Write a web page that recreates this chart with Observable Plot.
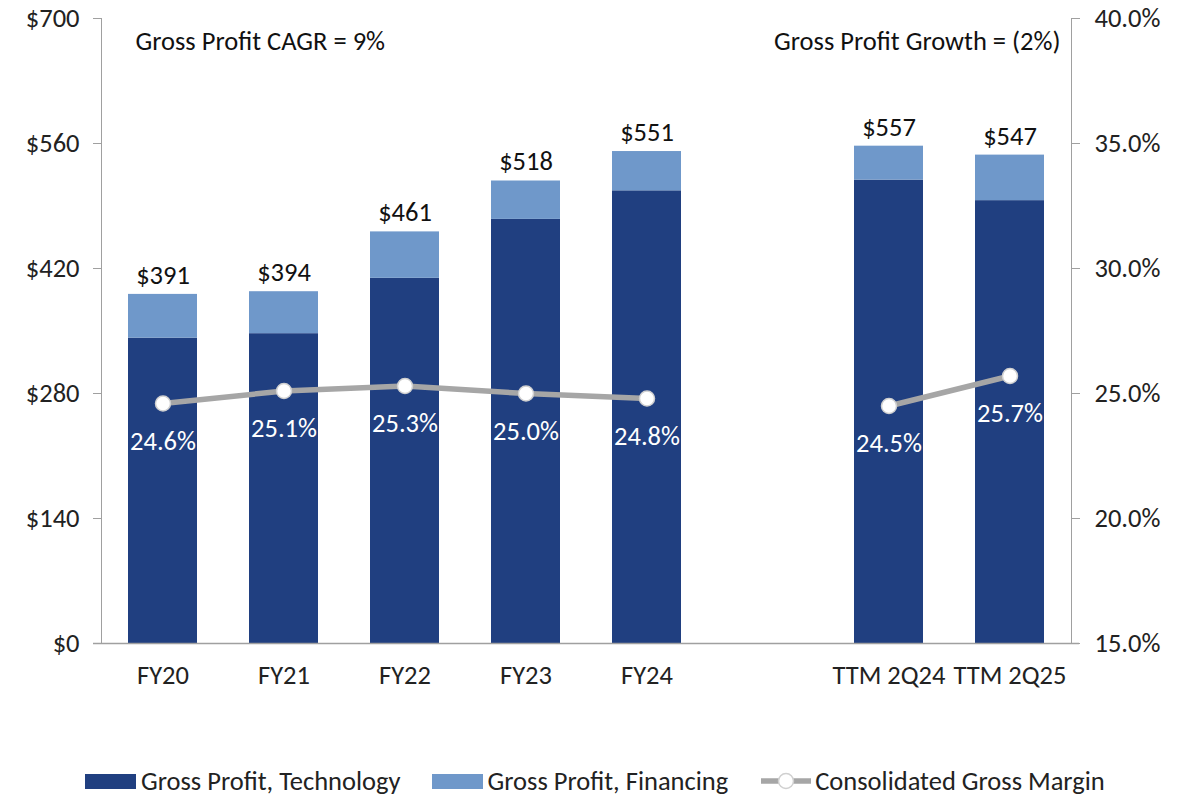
<!DOCTYPE html>
<html>
<head>
<meta charset="utf-8">
<script src="https://cdn.jsdelivr.net/npm/d3@7"></script>
<script src="https://cdn.jsdelivr.net/npm/@observablehq/plot@0.6"></script>
<style>
  html, body { margin: 0; padding: 0; background: #fff; }
  body { width: 1194px; height: 796px; overflow: hidden; font-family: Carlito, Lato, sans-serif; }
  #chart svg { display: block; }
  #legend { display: flex; justify-content: flex-start; align-items: center; height: 30px; padding-left: 85px;
    font-size: 26.5px; line-height: 30px; color: #222; font-family: Carlito, Lato, sans-serif; }
  .item { display: flex; align-items: center; margin-right: 31px; white-space: nowrap; }
  .sw { width: 51px; height: 15px; margin-right: 5px; }
</style>
</head>
<body>
<div id="chart"></div>
<div id="legend"></div>
<script>
const categories = ["FY20", "FY21", "FY22", "FY23", "FY24", "TTM 2Q24", "TTM 2Q25"];
const groups = ["FY", "FY", "FY", "FY", "FY", "TTM", "TTM"];
const technology = [342, 347, 409, 475, 507, 519, 496];
const financing = [49, 47, 52, 43, 44, 38, 51];
const totals = [391, 394, 461, 518, 551, 557, 547];
const margins = [24.6, 25.1, 25.3, 25.0, 24.8, 24.5, 25.7];
const xDomain = ["FY20", "FY21", "FY22", "FY23", "FY24", " ", "TTM 2Q24", "TTM 2Q25"];
const leftTicks = [0, 140, 280, 420, 560, 700];
const rightTicks = [15, 20, 25, 30, 35, 40];
const seriesNames = ["Gross Profit, Technology", "Gross Profit, Financing", "Consolidated Gross Margin"];
const colors = ["#203F80", "#6F98CA", "#A6A6A6"];
const notes = ["Gross Profit CAGR = 9%", "Gross Profit Growth = (2%)"];

// right axis (margin %) mapped onto the left axis range
const yMax = 700, mMin = 15, mMax = 40;
const toLeft = m => (m - mMin) / (mMax - mMin) * yMax;
const fromLeft = v => mMin + v / yMax * (mMax - mMin);

const rows = [];
categories.forEach((c, i) => {
  rows.push({cat: c, series: seriesNames[0], value: technology[i]});
  rows.push({cat: c, series: seriesNames[1], value: financing[i]});
});
const tot = categories.map((c, i) => ({cat: c, total: totals[i]}));
const mar = categories.map((c, i) => ({cat: c, m: margins[i], g: groups[i]}));

const font = "Carlito, Lato, sans-serif";
const fs = 26.5;
const chart = Plot.plot({
  width: 1194,
  height: 766,
  marginTop: 18,
  marginBottom: 123,
  marginLeft: 101,
  marginRight: 123,
  style: {fontFamily: font, fontSize: fs + "px", color: "#222", background: "#fff"},
  x: {domain: xDomain, paddingInner: 0.43, paddingOuter: 0.215, label: null},
  y: {domain: [0, yMax], label: null},
  color: {domain: seriesNames.slice(0, 2), range: colors.slice(0, 2)},
  marks: [
    Plot.barY(rows, {x: "cat", y: "value", fill: "series", order: seriesNames.slice(0, 2)}),
    Plot.frame({anchor: "left", stroke: "#A0A0A0", strokeOpacity: 1}),
    Plot.frame({anchor: "right", stroke: "#A0A0A0", strokeOpacity: 1}),
    Plot.ruleY([0], {stroke: "#A0A0A0", strokeWidth: 1.5, insetLeft: -8, insetRight: -8}),
    Plot.axisY({anchor: "left", ticks: leftTicks, tickFormat: d => "$" + d, tickSize: 8, tickPadding: 14,
      stroke: "#A0A0A0", fill: "#222", fontSize: fs}),
    Plot.axisY({anchor: "right", ticks: rightTicks.map(toLeft), tickFormat: d => fromLeft(d).toFixed(1) + "%",
      tickSize: 8, tickPadding: 15, stroke: "#A0A0A0", fill: "#222", fontSize: fs}),
    Plot.axisX({tickSize: 0, tickPadding: 22, tickFormat: d => d.trim(), fill: "#222", fontSize: fs}),
    Plot.text(tot, {x: "cat", y: "total", text: d => "$" + d.total, dy: -19, fill: "#111", fontSize: fs}),
    Plot.line(mar, {x: "cat", y: d => toLeft(d.m), z: "g", stroke: colors[2], strokeWidth: 5.5}),
    Plot.dot(mar, {x: "cat", y: d => toLeft(d.m), r: 7.5, fill: "#fff", stroke: "#D0D0D0", strokeWidth: 1.5}),
    Plot.text(mar, {x: "cat", y: d => toLeft(d.m), text: d => d.m.toFixed(1) + "%", dy: 38, fill: "#fff", fontSize: fs}),
    Plot.text([notes[0]], {frameAnchor: "top-left", dx: 34, dy: 23, lineAnchor: "middle", textAnchor: "start", fill: "#111", fontSize: fs}),
    Plot.text([notes[1]], {frameAnchor: "top-right", dx: -11, dy: 23, lineAnchor: "middle", textAnchor: "end", fill: "#111", fontSize: fs})
  ]
});
document.getElementById("chart").appendChild(chart);

const legend = document.getElementById("legend");
seriesNames.forEach((name, i) => {
  const item = document.createElement("div");
  item.className = "item";
  if (i < 2) {
    item.innerHTML = `<div class="sw" style="background:${colors[i]}"></div><span>${name}</span>`;
  } else {
    item.innerHTML = `<svg width="54" height="20" style="margin-right:2px"><line x1="2" x2="52" y1="10" y2="10" stroke="${colors[2]}" stroke-width="5.5"/><circle cx="27" cy="10" r="7.5" fill="#fff" stroke="#D0D0D0" stroke-width="1.5"/></svg><span>${name}</span>`;
  }
  legend.appendChild(item);
});
</script>
</body>
</html>
